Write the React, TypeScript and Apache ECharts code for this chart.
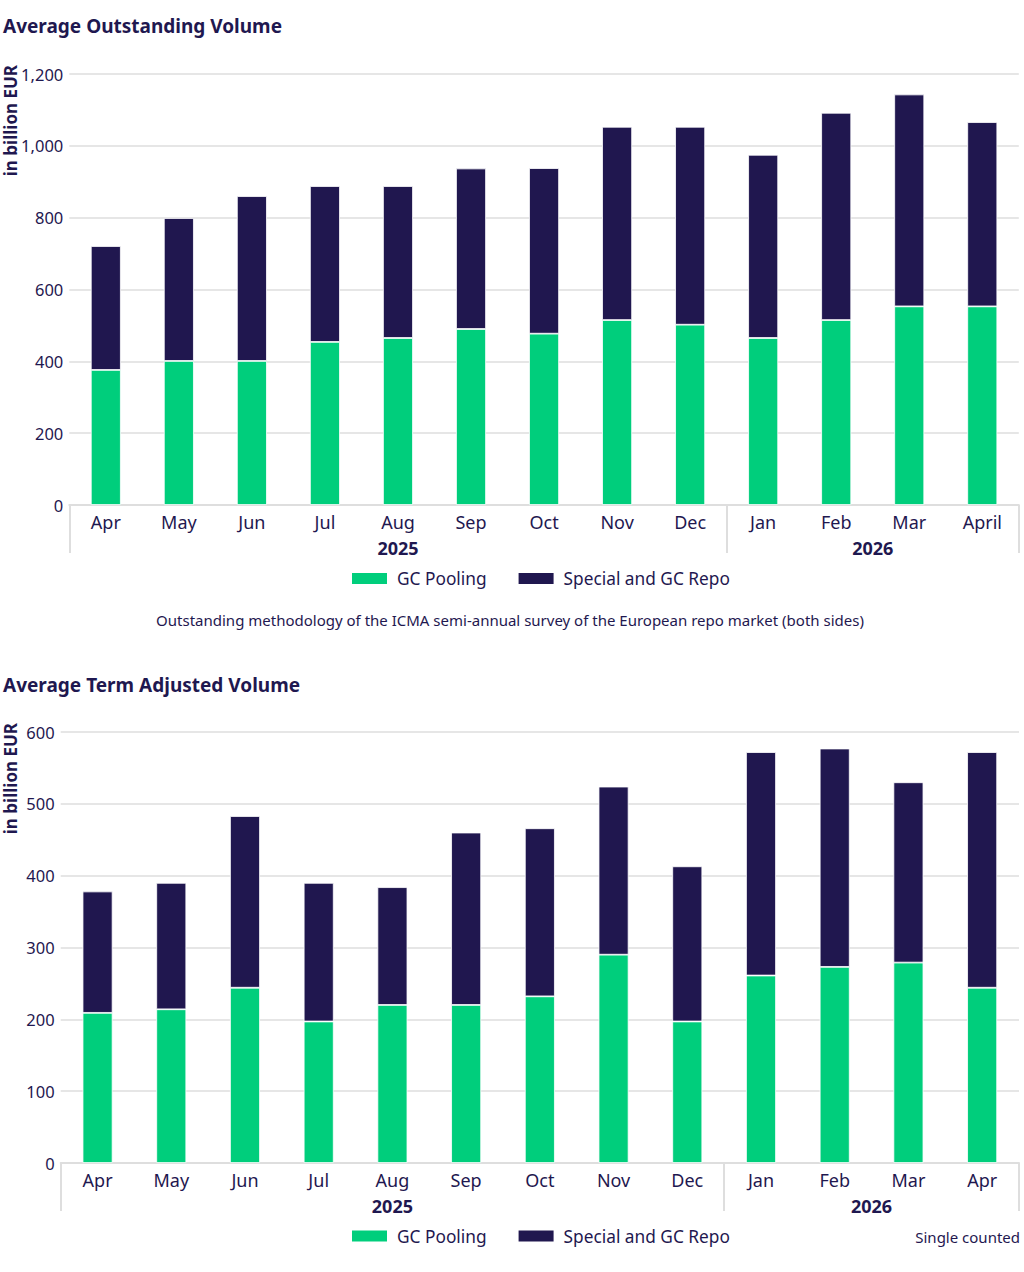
import React, { useEffect, useRef } from "react";
import * as echarts from "echarts";

// ---- data ----
const monthsTop = ["Apr", "May", "Jun", "Jul", "Aug", "Sep", "Oct", "Nov", "Dec", "Jan", "Feb", "Mar", "April"];
const gcPoolingTop = [376, 401, 401, 454, 465, 490, 477, 515, 502, 465, 515, 553, 553];
const specialTop = [345, 398, 459, 434, 423, 447, 461, 538, 551, 510, 577, 590, 513];

const monthsBottom = ["Apr", "May", "Jun", "Jul", "Aug", "Sep", "Oct", "Nov", "Dec", "Jan", "Feb", "Mar", "Apr"];
const gcPoolingBottom = [209, 214, 244, 197, 220, 220, 232, 290, 197, 261, 273, 279, 244];
const specialBottom = [169, 176, 239, 193, 164, 240, 234, 234, 216, 311, 304, 251, 328];

const years = ["2025", "2026"];
const yearCenters = [4.5, 11];
const yearStartIndex = [0, 9];

const seriesNames = ["GC Pooling", "Special and GC Repo"];
const titles = ["Average Outstanding Volume", "Average Term Adjusted Volume"];
const unitLabel = "in billion EUR";
const footnoteTop = "Outstanding methodology of the ICMA semi-annual survey of the European repo market (both sides)";
const footnoteBottom = "Single counted";

const GREEN = "#00CE7C";
const NAVY = "#20174F";
const TEXT = "#1f1850";
const GRID = "#dedede";
const FONT = "Noto Sans";

export default function App() {
  const ref = useRef<HTMLDivElement>(null);

  useEffect(() => {
    if (!ref.current) return;
    const chart = echarts.init(ref.current, undefined, { renderer: "svg" });

    const grids = [
      { left: 69.3, right: 5.2, top: 74, height: 431 },
      { left: 60.7, right: 5, top: 732, height: 431 },
    ];

    const monthAxis = (gridIndex: number, data: string[]) => ({
      type: "category",
      gridIndex,
      data,
      position: "bottom",
      axisLine: { show: true, lineStyle: { color: GRID, width: 2 } },
      axisTick: {
        show: true,
        length: 48,
        interval: (i: number) => yearStartIndex.indexOf(i) >= 0,
        lineStyle: { color: GRID, width: 2 },
      },
      axisLabel: { color: TEXT, fontSize: 18, fontFamily: FONT, margin: 8, interval: 0 },
      splitLine: { show: false },
    });

    const yearAxis = (gridIndex: number) => ({
      type: "value",
      gridIndex,
      position: "bottom",
      min: 0,
      max: 13,
      interval: 0.5,
      axisLine: { show: false },
      axisTick: { show: false },
      splitLine: { show: false },
      axisLabel: {
        color: TEXT,
        fontSize: 18,
        fontWeight: "bold",
        fontFamily: FONT,
        margin: 34,
        showMinLabel: true,
        showMaxLabel: true,
        formatter: (v: number) => {
          const k = yearCenters.indexOf(v);
          return k >= 0 ? years[k] : "";
        },
      },
    });

    const valueAxis = (gridIndex: number, max: number, interval: number) => ({
      type: "value",
      gridIndex,
      min: 0,
      max,
      interval,
      axisLine: { show: false },
      axisTick: { show: false },
      splitLine: { show: true, lineStyle: { color: GRID, width: 1.5 } },
      axisLabel: {
        color: TEXT,
        fontSize: 16.5,
        fontFamily: FONT,
        margin: 6,
        formatter: (v: number) => v.toLocaleString("en-US"),
      },
    });

    const barSeries = (name: string, data: number[], color: string, axisIdx: number) => ({
      name,
      type: "bar",
      stack: "s" + axisIdx,
      xAxisIndex: axisIdx * 2,
      yAxisIndex: axisIdx,
      data,
      barWidth: 30,
      itemStyle: { color, borderColor: "#ffffff", borderWidth: 0.8 },
    });

    const legendCommon = {
      left: 350,
      padding: 0,
      itemWidth: 37,
      itemHeight: 13,
      itemGap: 30,
      icon: "rect",
      textStyle: { color: TEXT, fontSize: 17.3, fontFamily: FONT, padding: [0, 0, 0, 4] },
      data: seriesNames,
    };

    const unitText = (y: number) => ({
      type: "text",
      x: 10,
      y,
      rotation: Math.PI / 2,
      style: {
        text: unitLabel,
        fill: TEXT,
        font: `bold 17px "${FONT}"`,
        textAlign: "right",
        textVerticalAlign: "middle",
      },
    });

    chart.setOption({
      animation: false,
      backgroundColor: "#ffffff",
      title: [
        {
          text: titles[0],
          left: 3,
          top: 16,
          padding: 0,
          textStyle: { color: TEXT, fontSize: 19, fontWeight: "bold", fontFamily: FONT },
        },
        {
          text: titles[1],
          left: 3,
          top: 675,
          padding: 0,
          textStyle: { color: TEXT, fontSize: 19, fontWeight: "bold", fontFamily: FONT },
        },
      ],
      legend: [
        { ...legendCommon, top: 570 },
        { ...legendCommon, top: 1227.5 },
      ],
      grid: grids,
      xAxis: [monthAxis(0, monthsTop), yearAxis(0), monthAxis(1, monthsBottom), yearAxis(1)],
      yAxis: [valueAxis(0, 1200, 200), valueAxis(1, 600, 100)],
      series: [
        barSeries(seriesNames[0], gcPoolingTop, GREEN, 0),
        barSeries(seriesNames[1], specialTop, NAVY, 0),
        barSeries(seriesNames[0], gcPoolingBottom, GREEN, 1),
        barSeries(seriesNames[1], specialBottom, NAVY, 1),
      ],
      graphic: [
        unitText(65),
        unitText(723),
        {
          type: "text",
          x: 510,
          y: 620,
          style: {
            text: footnoteTop,
            fill: TEXT,
            font: `15px "${FONT}"`,
            textAlign: "center",
            textVerticalAlign: "middle",
          },
        },
        {
          type: "text",
          x: 1020,
          y: 1237,
          style: {
            text: footnoteBottom,
            fill: TEXT,
            font: `15px "${FONT}"`,
            textAlign: "right",
            textVerticalAlign: "middle",
          },
        },
      ],
    });

    return () => chart.dispose();
  }, []);

  return (
    <div
      ref={ref}
      style={{ position: "fixed", left: 0, top: 0, width: 1024, height: 1272, background: "#fff" }}
    />
  );
}
